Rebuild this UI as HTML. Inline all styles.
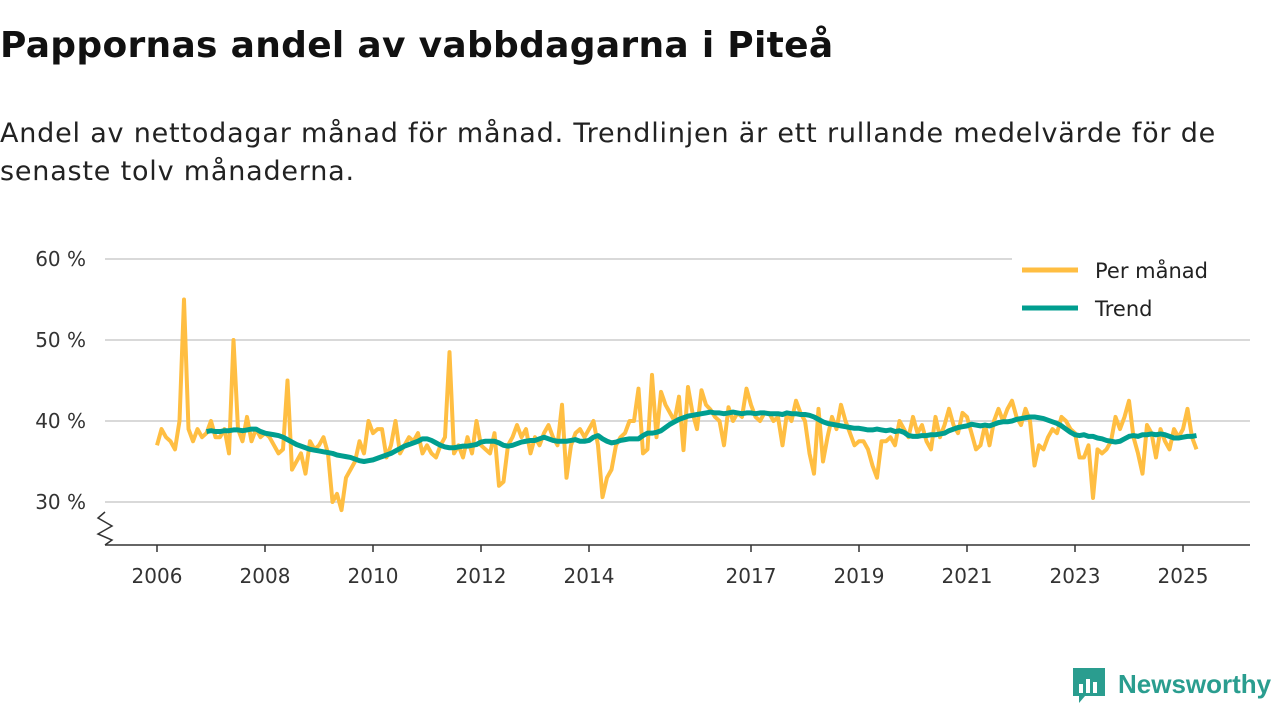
<!DOCTYPE html>
<html><head><meta charset="utf-8"><style>
body{margin:0;width:1280px;height:720px;background:#fff;font-family:"DejaVu Sans",sans-serif;overflow:hidden;position:relative}
h1{position:absolute;left:0;top:25px;margin:0;font-size:36px;font-weight:bold;color:#111;letter-spacing:0.3px;white-space:nowrap}
.sub{position:absolute;left:0;top:115px;font-size:27px;line-height:38px;color:#222;letter-spacing:0.8px;white-space:nowrap}
</style></head><body>
<h1>Pappornas andel av vabbdagarna i Piteå</h1>
<div class="sub">Andel av nettodagar månad för månad. Trendlinjen är ett rullande medelvärde för de<br>senaste tolv månaderna.</div>
<svg id="chart" width="1280" height="720" style="position:absolute;left:0;top:0"></svg>
<script>
const yTicks=[30,40,50,60];
const xTickYears=[2006,2008,2010,2012,2014,2017,2019,2021,2023,2025];
const monthly=[
37,39,38,37.5,36.5,40,55,39,37.5,39,38,38.5,
40,38,38,39,36,50,39,37.5,40.5,37.5,39,38,
38.5,38,37,36,36.5,45,34,35,36,33.5,37.5,36.5,
37,38,36,30,31,29,33,34,35,37.5,36,40,
38.5,39,39,35.5,37,40,36,37,38,37.5,38.5,36,
37,36,35.5,37,38,48.5,36,37,35.5,38,36,40,
37,36.5,36,38.5,32,32.5,37,38,39.5,38,39,36,
38,37,38.5,39.5,38,37,42,33,37,38.5,39,38,
39,40,37,30.6,33,34,37,38,38.5,40,40,44,
36,36.5,45.7,38,43.6,42,41,40,43,36.4,44.2,41,
39,43.8,42,41.4,40.5,40,37,41.7,40,41,40.5,44,
42,40.5,40,41,41,40,40.5,37,41,40,42.5,41,
40,36,33.5,41.5,35,38,40.5,39,42,40,38.5,37,
37.5,37.5,36.5,34.5,33,37.5,37.5,38,37,40,39,38,
40.5,38.5,39.5,37.5,36.5,40.5,38,39.5,41.5,39.5,38.5,41,
40.5,38.5,36.5,37,39.5,37,40,41.5,40,41.5,42.5,40.5,
39.5,41.5,40,34.5,37,36.5,38,39,38.5,40.5,40,39,
38.5,35.5,35.5,37,30.5,36.5,36,36.5,37.5,40.5,39,40.5,
42.5,38,36,33.5,39.5,38.5,35.5,39,37.5,36.5,39,38,
39,41.5,38,36.5];
const trendStart=11;
const trend=[38.7,
38.8,38.7,38.7,38.8,38.8,38.9,38.9,38.8,38.9,39,39,38.7,
38.5,38.4,38.3,38.2,38,37.7,37.4,37.1,36.9,36.7,36.5,36.4,
36.3,36.2,36.1,36,35.8,35.7,35.6,35.5,35.3,35.1,35,35.1,
35.2,35.4,35.6,35.8,36,36.3,36.6,36.9,37.1,37.3,37.5,37.8,
37.8,37.6,37.3,37,36.8,36.7,36.7,36.8,36.9,36.9,37,37.1,
37.4,37.5,37.5,37.5,37.3,37,36.9,37,37.2,37.4,37.5,37.6,
37.6,37.8,38,37.8,37.6,37.5,37.5,37.5,37.6,37.7,37.5,37.5,
37.6,38,38.2,37.8,37.5,37.3,37.4,37.6,37.7,37.8,37.8,37.8,
38.2,38.5,38.5,38.6,38.8,39.2,39.6,39.9,40.2,40.4,40.6,40.7,
40.8,40.9,41,41.1,41,41,40.9,41,41.1,41,40.9,41,
41,40.9,41,41,40.9,40.9,40.9,40.8,41,40.9,40.9,40.8,
40.8,40.7,40.5,40.2,39.9,39.7,39.6,39.5,39.4,39.3,39.2,39.1,
39.1,39,38.9,38.9,39,38.9,38.8,38.9,38.7,38.8,38.6,38.2,
38.1,38.1,38.2,38.2,38.3,38.3,38.4,38.5,38.8,39,39.2,39.3,
39.4,39.6,39.5,39.4,39.5,39.4,39.6,39.8,39.9,39.9,40,40.2,
40.3,40.4,40.5,40.5,40.4,40.3,40.1,39.9,39.7,39.4,39,38.6,
38.3,38.2,38.3,38.1,38.1,37.9,37.8,37.6,37.5,37.4,37.5,37.8,
38.1,38.2,38.1,38.3,38.3,38.4,38.3,38.4,38.3,38.1,37.9,37.9,
38,38.1,38.1,38.2];
const NS="http://www.w3.org/2000/svg";
const svg=document.getElementById('chart');
const yS=v=>421-(v-40)*8.1;
const xS=i=>157+i*4.5;
const xYear=y=>157+(y-2006)*54;
const FF='DejaVu Sans, sans-serif';
function mk(t,a,p){const e=document.createElementNS(NS,t);for(const k in a)e.setAttribute(k,a[k]);(p||svg).appendChild(e);return e;}
yTicks.forEach(v=>{
  const g=mk('line',{x1:105,x2:1250,y1:yS(v),y2:yS(v),stroke:'#d9d9d9','stroke-width':2});
  
  
  const t=mk('text',{x:86,y:yS(v)+7,'text-anchor':'end','font-size':20,fill:'#333','font-family':FF});
  t.textContent=v+' %';
  
  
});
const ax=mk('line',{x1:105,x2:1250,y1:545,y2:545,stroke:'#333','stroke-width':1.5});


const zz=mk('polyline',{points:'105,512 98,518 112,526 98,534 112,540 105,545',fill:'none',stroke:'#333','stroke-width':1.5});


xTickYears.forEach(y=>{
  const x=xYear(y);
  const tk=mk('line',{x1:x,x2:x,y1:545,y2:552,stroke:'#333','stroke-width':1.5});
  
  
  const t=mk('text',{x:x,y:583,'text-anchor':'middle','font-size':20,fill:'#333','font-family':FF});
  t.textContent=y;
  
  
});
const mp=mk('polyline',{points:monthly.map((v,i)=>xS(i)+','+yS(v)).join(' '),fill:'none',stroke:'#ffbe42','stroke-width':4,'stroke-linejoin':'round'});


const tp=mk('polyline',{points:trend.map((v,i)=>xS(i+trendStart)+','+yS(v)).join(' '),fill:'none',stroke:'#009e8f','stroke-width':5,'stroke-linejoin':'round'});


const lg=mk('rect',{x:1012,y:252,width:238,height:80,fill:'#fff'});


[['Per månad','#ffbe42',270,'legend-entry-per-month'],['Trend','#009e8f',308,'legend-entry-trend']].forEach(([n,c,y,dn])=>{
  const l=mk('line',{x1:1022,x2:1078,y1:y,y2:y,stroke:c,'stroke-width':5});
  
  
  const t=mk('text',{x:1095,y:y+8,'font-size':21,fill:'#222','font-family':FF});
  t.textContent=n;
  
  
});
</script>
<svg width="210" height="44" style="position:absolute;left:1070px;top:664px">
<path d="M3 4 h32 v28 h-20 l-6 7 v-7 h-6 z" fill="#2a9d8f"/>
<rect x="9" y="20" width="4" height="9" fill="#fff"/><rect x="16" y="15" width="4" height="14" fill="#fff"/><rect x="23" y="18" width="4" height="11" fill="#fff"/>
<text x="48" y="29" font-size="26" font-weight="bold" fill="#2a9d8f" font-family="Liberation Sans, sans-serif">Newsworthy</text>
</svg>
</body></html>
